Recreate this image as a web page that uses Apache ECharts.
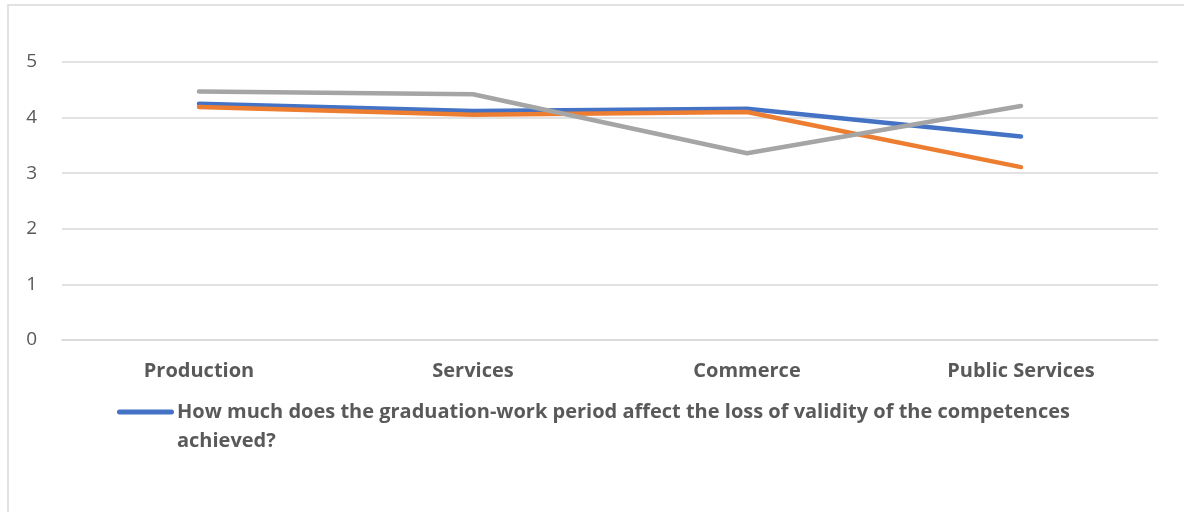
<!DOCTYPE html>
<html>
<head>
<meta charset="utf-8">
<script src="https://cdn.jsdelivr.net/npm/echarts@6/dist/echarts.min.js"></script>
<style>
  html, body { margin: 0; padding: 0; background: #ffffff; }
  #chart { width: 1184px; height: 512px; }
</style>
</head>
<body>
<div id="chart"></div>
<script>
// Sectors on the category axis
const categories = ['Production', 'Services', 'Commerce', 'Public Services'];

// Average ratings per sector
const seriesBlueName = 'How much does the graduation-work period affect the loss of validity of the competences achieved?';
const seriesBlue = [4.25, 4.12, 4.16, 3.66];
const seriesOrange = [4.19, 4.05, 4.10, 3.11];
const seriesGray = [4.47, 4.42, 3.36, 4.21];

const yTicks = [0, 1, 2, 3, 4, 5];

const textColor = '#595959';
const font = '"Open Sans", Lato, sans-serif';

// Legend symbol: a rounded bar sitting at the top of a taller box, so it lines
// up with the first line of the wrapped legend text.
const legendIcon = 'path://M2.5,0 L54.5,0 A2.5,2.5 0 0 1 54.5,5 L2.5,5 A2.5,2.5 0 0 1 2.5,0 Z M0,35 L57,35';

const chart = echarts.init(document.getElementById('chart'), null, { renderer: 'canvas' });

function lineSeries(name, data, color) {
  return {
    name: name,
    type: 'line',
    data: data,
    symbol: 'none',
    smooth: false,
    lineStyle: { color: color, width: 4.5, cap: 'round', join: 'round' },
    itemStyle: { color: color },
    emphasis: { disabled: true }
  };
}

chart.setOption({
  animation: false,
  backgroundColor: '#ffffff',
  graphic: [{
    type: 'rect',
    shape: { x: 8, y: 5, width: 1200, height: 520 },
    style: { fill: 'none', stroke: '#d9d9d9', lineWidth: 1.5 },
    silent: true,
    z: -1
  }],
  grid: { left: 62, right: 26, top: 62, bottom: 172, containLabel: false },
  legend: {
    data: [seriesBlueName],
    left: 112,
    top: 393,
    itemWidth: 57,
    itemHeight: 35,
    itemGap: 4,
    icon: legendIcon,
    symbolKeepAspect: false,
    itemStyle: { borderWidth: 0 },
    textStyle: {
      color: textColor,
      fontFamily: font,
      fontWeight: 'bold',
      fontSize: 20,
      width: 905,
      overflow: 'break',
      lineHeight: 29,
      padding: [0, 0, 0, -2]
    }
  },
  xAxis: {
    type: 'category',
    data: categories,
    boundaryGap: true,
    axisLine: { show: true, lineStyle: { color: '#d9d9d9', width: 1.5 } },
    axisTick: { show: false },
    axisLabel: {
      color: textColor,
      fontFamily: font,
      fontWeight: 'bold',
      fontSize: 20,
      margin: 21
    },
    splitLine: { show: false }
  },
  yAxis: {
    type: 'value',
    min: yTicks[0],
    max: yTicks[yTicks.length - 1],
    interval: 1,
    axisLine: { show: false },
    axisTick: { show: false },
    axisLabel: {
      color: textColor,
      fontFamily: font,
      fontSize: 19,
      margin: 25,
      formatter: v => (yTicks.includes(v) ? String(v) : '')
    },
    splitLine: { lineStyle: { color: '#d9d9d9', width: 1.5 } }
  },
  series: [
    lineSeries(seriesBlueName, seriesBlue, '#4472C4'),
    lineSeries('Series 2', seriesOrange, '#ED7D31'),
    lineSeries('Series 3', seriesGray, '#A5A5A5')
  ]
});
</script>
</body>
</html>
